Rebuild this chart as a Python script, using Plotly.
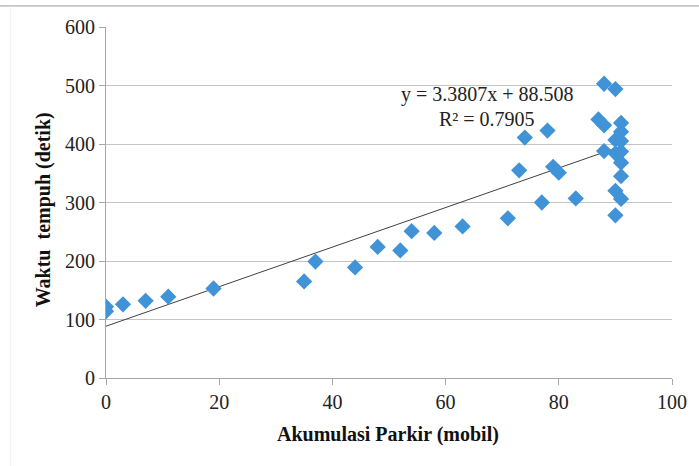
import plotly.graph_objects as go

# Data
akumulasi = [0, 0, 3, 7, 11, 19, 35, 37, 44, 48, 52, 54, 58, 63, 71, 73, 74, 77, 78, 79, 80, 83,
             87, 88, 88, 88, 90, 90, 90, 90, 90, 91, 91, 91, 91, 91, 91, 91]
waktu = [122, 114, 126, 132, 139, 153, 165, 199, 189, 224, 218, 251, 248, 259, 273, 355, 411, 300, 423, 361, 351, 307,
         442, 503, 432, 388, 494, 407, 384, 320, 278, 436, 421, 405, 387, 368, 345, 306]

slope = 3.3807
intercept = 88.508
line_x = [0, 91]
line_y = [slope * v + intercept for v in line_x]

x_ticks = [0, 20, 40, 60, 80, 100]
y_ticks = [0, 100, 200, 300, 400, 500, 600]

serif = "Liberation Serif, Times New Roman, serif"
txt = "#222222"

fig = go.Figure()
fig.add_trace(go.Scatter(x=line_x, y=line_y, mode="lines",
                         line=dict(color="#404040", width=1), showlegend=False, hoverinfo="skip"))
fig.add_trace(go.Scatter(x=akumulasi, y=waktu, mode="markers",
                         marker=dict(symbol="diamond", size=12.5, color="#4193d8",
                                     line=dict(width=0)),
                         showlegend=False))

fig.update_layout(
    width=699, height=466,
    margin=dict(l=106, r=23, t=27, b=88),
    paper_bgcolor="white", plot_bgcolor="white",
    font=dict(family=serif, size=20, color=txt),
    xaxis=dict(range=[0, 100], tickvals=x_ticks, showgrid=False, zeroline=False,
               showline=True, linecolor="#a6a6a6", linewidth=1,
               ticks="outside", ticklen=6, tickcolor="#a6a6a6",
               tickfont=dict(family=serif, size=20, color=txt)),
    yaxis=dict(range=[0, 600], tickvals=y_ticks, showgrid=True, gridcolor="#c4c4c4", gridwidth=1,
               zeroline=False, showline=True, linecolor="#a6a6a6", linewidth=1,
               ticks="outside", ticklen=6, tickcolor="#a6a6a6",
               tickfont=dict(family=serif, size=20, color=txt)),
    shapes=[
        dict(type="line", xref="paper", yref="paper", x0=-0.2, x1=1.1, y0=1.06, y1=1.06,
             line=dict(color="#9a9a9a", width=1)),
        dict(type="line", xref="paper", yref="paper", x0=-0.1684, x1=-0.1684, y0=1.06, y1=-0.3,
             line=dict(color="#eeeeee", width=1)),
    ],
    annotations=[
        dict(x=0.674, y=0.809, xref="paper", yref="paper", text="y = 3.3807x + 88.508",
             showarrow=False, xanchor="center", yanchor="middle",
             font=dict(family=serif, size=20, color=txt)),
        dict(x=0.674, y=0.738, xref="paper", yref="paper", text="R² = 0.7905",
             showarrow=False, xanchor="center", yanchor="middle",
             font=dict(family=serif, size=20, color=txt)),
        dict(x=0.498, y=-0.162, xref="paper", yref="paper", text="<b>Akumulasi Parkir (mobil)</b>",
             showarrow=False, xanchor="center", yanchor="middle",
             font=dict(family=serif, size=20, color="#111111")),
        dict(x=-0.1105, y=0.479, xref="paper", yref="paper", text="<b>Waktu  tempuh (detik)</b>",
             showarrow=False, xanchor="center", yanchor="middle", textangle=-90,
             font=dict(family=serif, size=20, color="#111111")),
    ],
)

fig.write_html("out.html")
